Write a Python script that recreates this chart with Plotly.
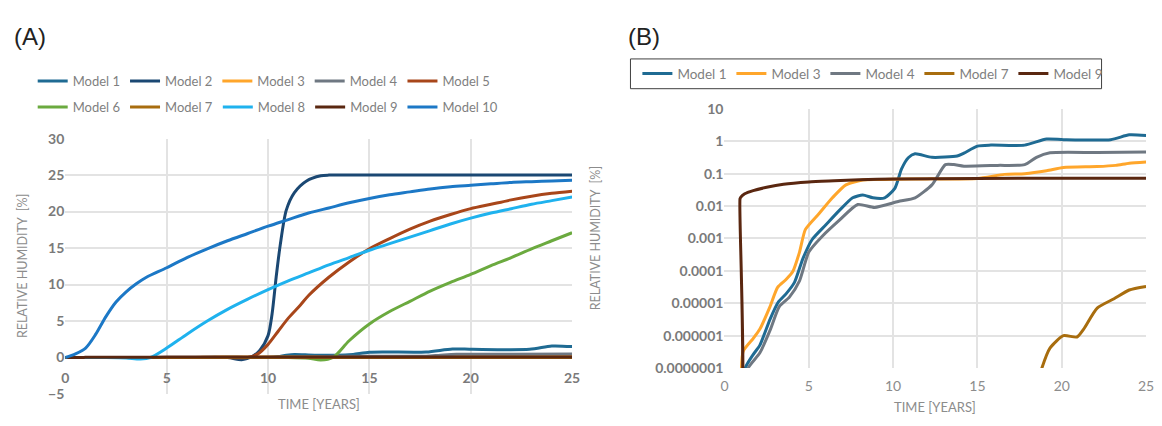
import plotly.graph_objects as go

W, H = 1162, 426

# ---------------- data ----------------
models_a = ["Model 1", "Model 2", "Model 3", "Model 4", "Model 5",
            "Model 6", "Model 7", "Model 8", "Model 9", "Model 10"]
colors = {
    "Model 1": "#1F6B93", "Model 2": "#1B4873", "Model 3": "#FFA62B",
    "Model 4": "#6F7882", "Model 5": "#A8461A", "Model 6": "#6BAA3F",
    "Model 7": "#A86D0E", "Model 8": "#1FB2EE", "Model 9": "#5A2710",
    "Model 10": "#1C78C6",
}

# Models with small values (used in both panels)
m1_x = [0, 1.0, 1.25, 1.7, 2.1, 2.7, 3.2, 3.65, 4.15, 4.65, 5.2, 6.0, 6.8, 7.6, 8.2, 8.8, 9.5,
        10.1, 10.5, 10.9, 11.3, 12.3, 13.8, 14.2, 15.0, 15.8, 17.8, 19.1, 20.1, 22.9, 24.0, 25]
m1_y = [1e-9, 1e-8, 1.05e-7, 2.6e-7, 5.1e-7, 3.2e-6, 1.1e-5, 1.95e-5, 4.4e-5, 2.4e-4, 9.3e-4,
        2.6e-3, 7.2e-3, 0.018, 0.022, 0.018, 0.018, 0.035, 0.14, 0.31, 0.41, 0.32, 0.35, 0.43,
        0.71, 0.76, 0.76, 1.17, 1.12, 1.12, 1.58, 1.5]

m3_x = [0, 0.9, 1.1, 1.7, 2.1, 2.7, 3.15, 3.65, 4.05, 4.45, 4.8, 5.6, 6.4, 7.2, 8.2, 9, 10,
        12, 15, 16.6, 17.8, 19.1, 20.1, 22.1, 23.2, 24, 25]
m3_y = [1e-9, 1e-8, 3.2e-7, 8.1e-7, 1.6e-6, 7.9e-6, 3.1e-5, 5.4e-5, 9.5e-5, 3.8e-4, 1.9e-3,
        5.8e-3, 0.018, 0.045, 0.064, 0.066, 0.067, 0.069, 0.071, 0.095, 0.1, 0.123, 0.155,
        0.165, 0.18, 0.21, 0.23]

m4_x = [0, 1.0, 1.4, 2.1, 2.7, 3.25, 3.85, 4.45, 5.0, 5.8, 6.8, 7.9, 8.9, 10.3, 11.3, 12.3,
        13.1, 13.6, 14.2, 16.2, 17.8, 18.5, 19.3, 22.1, 25]
m4_y = [1e-9, 1e-8, 1.0e-7, 2.95e-7, 1.45e-6, 7.9e-6, 1.55e-5, 4.9e-5, 3.8e-4, 1.17e-3,
        3.6e-3, 0.0112, 0.0091, 0.0138, 0.018, 0.045, 0.19, 0.19, 0.17, 0.18, 0.19, 0.32,
        0.44, 0.45, 0.47]

m7_x = [0, 10, 18.3, 18.8, 19.3, 20.1, 20.9, 21.3, 22.1, 23.1, 24.0, 25]
m7_y = [1e-9, 1e-9, 1e-8, 9.3e-8, 4.1e-7, 1.0e-6, 9.1e-7, 1.6e-6, 7.1e-6, 1.38e-5,
        2.57e-5, 3.3e-5]

m9_x = [0, 0.85, 0.92, 0.97, 1.2, 1.7, 2.5, 3.5, 5, 6.5, 8, 10, 15, 20, 25]
m9_y = [1e-9, 1e-9, 0.0166, 0.019, 0.024, 0.030, 0.038, 0.047, 0.055, 0.060, 0.065,
        0.068, 0.071, 0.072, 0.072]

# Models only in panel A
m2_x = [0, 2, 4, 6, 8, 8.7, 9.2, 9.6, 10.0, 10.2, 10.4, 10.6, 10.9, 11.3, 11.9, 12.6, 13, 15, 20, 25]
m2_y = [0, 0, 0, 0, 0, -0.3, 0.1, 1.0, 3.0, 6.0, 11.0, 15.4, 20.2, 22.6, 24.2, 24.9, 25, 25, 25, 25]

m5_x = [0, 2, 4, 6, 8, 9, 9.5, 10, 10.5, 11, 11.6, 12, 13, 14, 15, 16, 17, 18, 19, 20,
        21, 22, 23, 24, 25]
m5_y = [0, 0, 0, 0, 0, 0, 0.5, 1.8, 3.6, 5.4, 7.2, 8.5, 11.0, 13.1, 14.9, 16.3, 17.6,
        18.7, 19.6, 20.4, 21.0, 21.6, 22.1, 22.5, 22.8]

m6_x = [0, 2, 4, 6, 8, 10, 11, 12, 12.6, 13.2, 14, 15, 16, 17, 18, 19, 20, 21, 22, 23, 24, 25]
m6_y = [0, 0, 0, 0, 0, 0, 0, -0.1, -0.35, 0, 2.3, 4.6, 6.3, 7.7, 9.1, 10.3, 11.4, 12.6,
        13.7, 14.9, 16.0, 17.1]

m8_x = [0, 1, 2, 3, 3.7, 4.2, 5, 6, 7, 8, 9, 10, 11, 12, 13, 14, 15, 16, 17, 18, 19, 20,
        21, 22, 23, 24, 25]
m8_y = [0, 0, 0, -0.05, -0.2, 0, 1.3, 3.2, 5.0, 6.6, 8.0, 9.3, 10.5, 11.6, 12.7, 13.7,
        14.7, 15.6, 16.5, 17.4, 18.3, 19.1, 19.8, 20.4, 21.0, 21.5, 22.0]

m10_x = [0, 0.5, 1, 1.5, 2, 2.5, 3, 3.5, 4, 5, 6, 7, 8, 9, 10, 11, 12, 13, 14, 15, 16, 17,
         18, 19, 20, 21, 22, 23, 24, 25]
m10_y = [0, 0.5, 1.3, 3.2, 5.6, 7.6, 9.0, 10.1, 11.0, 12.3, 13.7, 14.9, 16.0, 17.0, 18.0,
         18.9, 19.8, 20.5, 21.2, 21.8, 22.3, 22.7, 23.1, 23.4, 23.6, 23.8, 24.0, 24.1, 24.2, 24.3]

series = {
    "Model 1": (m1_x, m1_y), "Model 2": (m2_x, m2_y), "Model 3": (m3_x, m3_y),
    "Model 4": (m4_x, m4_y), "Model 5": (m5_x, m5_y), "Model 6": (m6_x, m6_y),
    "Model 7": (m7_x, m7_y), "Model 8": (m8_x, m8_y), "Model 9": (m9_x, m9_y),
    "Model 10": (m10_x, m10_y),
}
models_b = ["Model 1", "Model 3", "Model 4", "Model 7", "Model 9"]

a_yticks = [-5, 0, 5, 10, 15, 20, 25, 30]
x_ticks = [0, 5, 10, 15, 20, 25]
b_yticks = [1e-7, 1e-6, 1e-5, 1e-4, 1e-3, 1e-2, 1e-1, 1, 10]
b_yticklabels = ["0.0000001", "0.000001", "0.00001", "0.0001", "0.001", "0.01", "0.1", "1", "10"]

# ---------------- layout helpers ----------------
def px_x(p):
    return p / W

def px_y(p):
    return (H - p) / H

FONT = "Lato"
GRID = "#e3e3e3"
TICKC = "#7a7a7a"

fig = go.Figure()

for i, m in enumerate(models_a):
    xs, ys = series[m]
    fig.add_trace(go.Scatter(
        x=xs, y=ys, name=m, mode="lines",
        line=dict(color=colors[m], width=3, shape="spline", smoothing=0.8),
        xaxis="x", yaxis="y",
        legend="legend" if i < 5 else "legend2",
    ))

for m in models_b:
    xs, ys = series[m]
    fig.add_trace(go.Scatter(
        x=xs, y=ys, name=m, mode="lines",
        line=dict(color=colors[m], width=3, shape="spline", smoothing=0.6),
        xaxis="x2", yaxis="y2", legend="legend3",
    ))

# plot-area pixel boxes
A_L, A_R, A_T, A_B = 62, 574, 135, 401
B_L, B_R, B_T, B_B = 728, 1154, 104, 374
A_ZERO = A_T + (A_B - A_T) * 30 / 35.0

tickfont_bold = dict(family=FONT, size=14, color=TICKC, weight="bold")

legend_common = dict(orientation="h", font=dict(family=FONT, size=13, color="#7f7f7f"),
                     bgcolor="rgba(0,0,0,0)", itemwidth=30,
                     tracegroupgap=0, xanchor="left", yanchor="middle")

fig.update_layout(
    width=W, height=H, margin=dict(l=0, r=0, t=0, b=0),
    paper_bgcolor="white", plot_bgcolor="white",
    showlegend=True,
    xaxis=dict(domain=[px_x(A_L), px_x(A_R)], range=[0, 25], tickvals=x_ticks,
               showgrid=True, gridcolor=GRID, gridwidth=1.5, zeroline=False,
               showline=False, ticks="", tickfont=tickfont_bold, ticklabelstandoff=10,
               anchor="free", position=px_y(A_ZERO)),
    yaxis=dict(domain=[px_y(A_B), px_y(A_T)], range=[-5, 30], tickvals=a_yticks,
               showgrid=True, gridcolor=GRID, gridwidth=1.5, zeroline=True,
               zerolinecolor="#d0d0d0", zerolinewidth=1.5, showline=False, ticks="",
               tickfont=tickfont_bold, anchor="x"),
    xaxis2=dict(domain=[px_x(B_L), px_x(B_R)], range=[0, 25], tickvals=x_ticks,
                showgrid=True, gridcolor=GRID, gridwidth=1.5, zeroline=False,
                showline=False, ticks="", anchor="y2", ticklabelstandoff=8,
                tickfont=dict(family=FONT, size=14, color="#8c8c8c")),
    yaxis2=dict(domain=[px_y(B_B), px_y(B_T)], type="log", range=[-7, 1],
                tickvals=b_yticks, ticktext=b_yticklabels,
                showgrid=True, gridcolor=GRID, gridwidth=1.5, zeroline=False,
                showline=False, ticks="", tickfont=tickfont_bold, anchor="x2"),
    legend=dict(legend_common, x=px_x(29), y=px_y(75)),
    legend2=dict(legend_common, x=px_x(29), y=px_y(102)),
    legend3=dict(legend_common, x=px_x(640), y=px_y(67.5), entrywidth=49,
                 entrywidthmode="pixels",
                 font=dict(family=FONT, size=13.5, color="#7f7f7f")),
)

# frame around the legend of panel B
fig.add_shape(type="rect", xref="paper", yref="paper",
              x0=px_x(633), x1=px_x(1109), y0=px_y(83), y1=px_y(52),
              line=dict(color="#404040", width=1), fillcolor="rgba(0,0,0,0)", layer="above")

ann_font_title = dict(family="Liberation Sans", size=24, color="#222222")
axis_title_font = dict(family=FONT, size=12.5, color="#8c8c8c")
common_ann = dict(xref="paper", yref="paper", showarrow=False, yanchor="middle")
fig.add_annotation(text="(A)", x=px_x(8), y=px_y(29), xanchor="left",
                   font=ann_font_title, **common_ann)
fig.add_annotation(text="(B)", x=px_x(628), y=px_y(29), xanchor="left",
                   font=ann_font_title, **common_ann)
fig.add_annotation(text="RELATIVE HUMIDITY  [%]", x=px_x(18), y=px_y((A_T + A_B) / 2),
                   xanchor="center", textangle=-90, font=axis_title_font, **common_ann)
fig.add_annotation(text="RELATIVE HUMIDITY  [%]", x=px_x(598), y=px_y((B_T + B_B) / 2),
                   xanchor="center", textangle=-90, font=axis_title_font, **common_ann)
fig.add_annotation(text="TIME [YEARS]", x=px_x((A_L + A_R) / 2), y=px_y(411),
                   xanchor="center", font=dict(family=FONT, size=13, color="#8c8c8c"),
                   **common_ann)
fig.add_annotation(text="TIME [YEARS]", x=px_x((B_L + B_R) / 2), y=px_y(415),
                   xanchor="center", font=dict(family=FONT, size=13, color="#8c8c8c"),
                   **common_ann)

fig.write_html("out.html")
